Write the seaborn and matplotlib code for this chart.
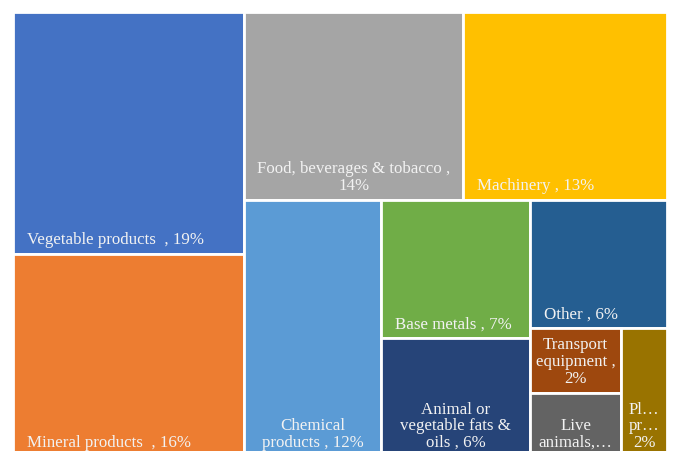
import matplotlib
matplotlib.use("Agg")
import matplotlib.pyplot as plt
from matplotlib.patches import Rectangle
import seaborn as sns

# Share of exports by product type (%)
labels = [
    "Vegetable products  , 19%",
    "Mineral products  , 16%",
    "Food, beverages & tobacco ,\n14%",
    "Machinery , 13%",
    "Chemical\nproducts , 12%",
    "Base metals , 7%",
    "Animal or\nvegetable fats &\noils , 6%",
    "Other , 6%",
    "Transport\nequipment ,\n2%",
    "Live\nanimals,\u2026",
    "Pl\u2026\npr\u2026\n2%",
]
shares = [19, 16, 14, 13, 12, 7, 6, 6, 2, 2, 2]
colors = [
    "#4472C4", "#ED7D31", "#A5A5A5", "#FFC000", "#5B9BD5", "#70AD47",
    "#264478", "#255E91", "#9E480E", "#636363", "#997300",
]


def worst(row, side):
    s = sum(row)
    return max(max(side * side * r / (s * s), s * s / (side * side * r)) for r in row)


def squarify(values, x, y, w, h):
    """Squarified treemap layout (y grows downward)."""
    total = sum(values)
    areas = [v * w * h / total for v in values]
    rects = []
    i = 0
    while i < len(areas):
        side = min(w, h)
        row = [areas[i]]
        j = i + 1
        while j < len(areas):
            cand = row + [areas[j]]
            if worst(cand, side) <= worst(row, side):
                row = cand
                j += 1
            else:
                break
        s = sum(row)
        if w >= h:
            cw = s / h
            yy = y
            for a in row:
                rh = a / cw
                rects.append((x, yy, cw, rh))
                yy += rh
            x += cw
            w -= cw
        else:
            rh = s / w
            xx = x
            for a in row:
                rw = a / rh
                rects.append((xx, y, rw, rh))
                xx += rw
            y += rh
            h -= rh
        i = j
    return rects


sns.set_theme(style="white")
plt.rcParams["font.family"] = ["Liberation Serif", "DejaVu Serif"]

W, H = 674, 452
fig = plt.figure(figsize=(W / 100, H / 100), dpi=100)
ax = fig.add_axes([0, 0, 1, 1])
ax.set_xlim(0, W)
ax.set_ylim(H, 0)
ax.axis("off")

rects = squarify(shares, 13, 13, 654, 445)
pad_x, pad_y = 14, 7
for (x, y, w, h), lab, col in zip(rects, labels, colors):
    ax.add_patch(Rectangle((x, y), w, h, facecolor=col, edgecolor="white", linewidth=2.0))
    if "\n" in lab:
        tx, ha = x + w / 2, "center"
    else:
        tx, ha = x + pad_x, "left"
    ax.text(tx, y + h - pad_y, lab, ha=ha, va="bottom", multialignment="center",
            color="#f2f2f2", fontsize=12.2, linespacing=1.05, clip_on=True)

fig.savefig("out.png", dpi=100, facecolor="white")
